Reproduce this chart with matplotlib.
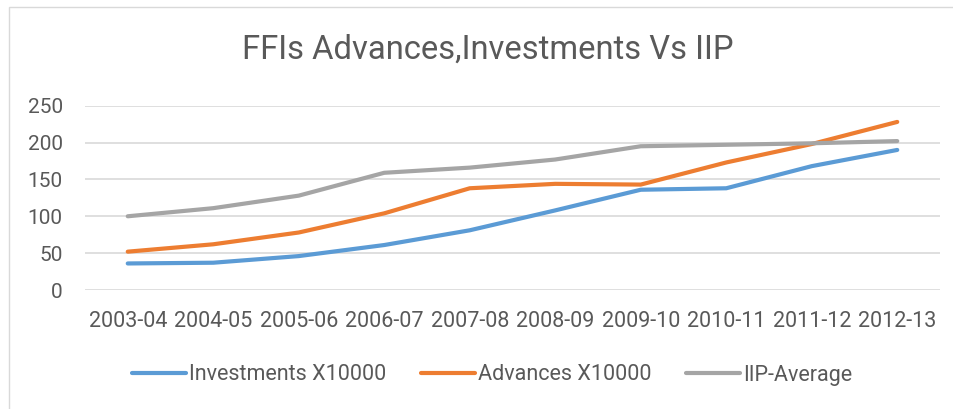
import matplotlib.pyplot as plt
from matplotlib.patches import Rectangle

# data
years = ['2003-04', '2004-05', '2005-06', '2006-07', '2007-08',
         '2008-09', '2009-10', '2010-11', '2011-12', '2012-13']
investments = [36, 37, 46, 61, 81, 108, 136, 138, 168, 190]
advances = [52, 62, 78, 104, 138, 144, 143, 173, 198, 228]
iip_avg = [100, 111, 128, 159, 166, 177, 195, 197, 199, 202]

plt.rcParams['font.family'] = ['Roboto', 'DejaVu Sans']
txt = '#595959'

fig = plt.figure(figsize=(9.54, 4.09), dpi=100)
ax = fig.add_axes([85 / 954, 1 - 290 / 409, 855 / 954, 184.3 / 409])

x = range(len(years))
ax.plot(x, investments, color='#5b9bd5', lw=3, solid_capstyle='round', label='Investments X10000')
ax.plot(x, advances, color='#ed7d31', lw=3, solid_capstyle='round', label='Advances X10000')
ax.plot(x, iip_avg, color='#a5a5a5', lw=3, solid_capstyle='round', label='IIP-Average')

ax.set_xlim(-0.5, len(years) - 0.5)
ax.set_ylim(0, 250)
ax.set_yticks(range(0, 251, 50))
ax.set_xticks(list(x))
ax.set_xticklabels(years)
ax.grid(axis='y', color='#d9d9d9', lw=1.2)
ax.set_axisbelow(True)
for s in ax.spines.values():
    s.set_visible(False)
ax.tick_params(length=0, colors=txt)
ax.tick_params(axis='x', labelsize=15.5, pad=15)
ax.tick_params(axis='y', labelsize=15, pad=16)

fig.text(488 / 954, 1 - 50 / 409, 'FFIs Advances,Investments Vs IIP', ha='center', va='center',
         fontsize=23.6, color=txt)

leg = ax.legend(loc='center', bbox_to_anchor=(492 / 954, 1 - 375 / 409), bbox_transform=fig.transFigure,
                ncol=3, frameon=False, fontsize=15.5, labelcolor=txt, handlelength=2.5,
                handletextpad=0.15, columnspacing=1.6)

fig.patches.append(Rectangle((9 / 954, -0.1), 1, 1 - 7 / 409 + 0.1, transform=fig.transFigure,
                             fill=False, edgecolor='#d9d9d9', lw=1))

fig.savefig('out.png', dpi=100)
